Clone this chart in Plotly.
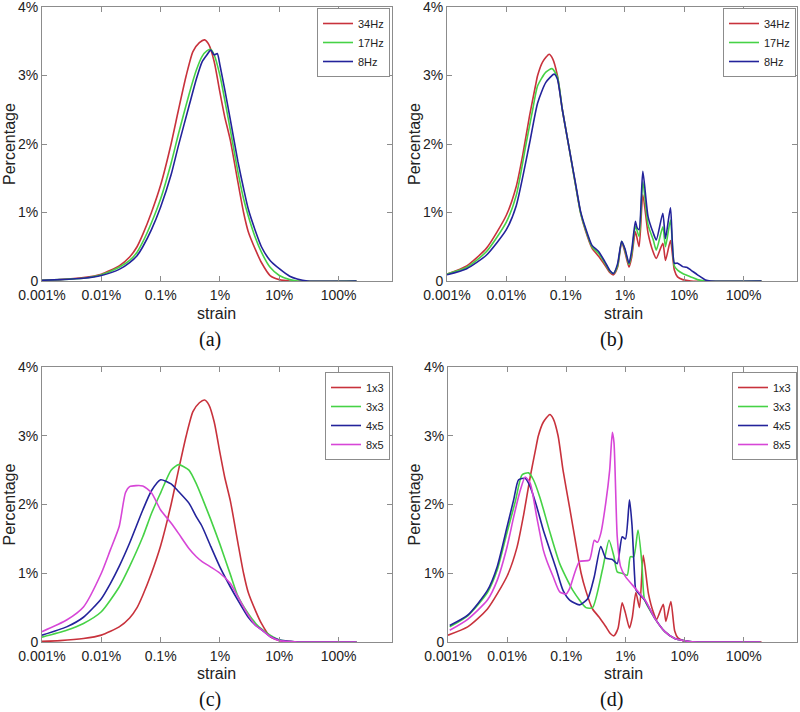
import plotly.graph_objects as go

# ---------------- DATA (strain in %, percentage in %) ----------------
# Panel (a): frequency comparison, smooth distributions
a34_x = [0.001, 0.002, 0.005, 0.01, 0.02, 0.03, 0.04, 0.05, 0.07, 0.1, 0.15, 0.2, 0.27, 0.35, 0.45, 0.55,
         0.65, 0.8, 1.0, 1.2, 1.5, 2.0, 2.5, 3.0, 4.0, 5.0, 7.0, 10, 15, 200]
a34_y = [0.01, 0.02, 0.05, 0.1, 0.22, 0.35, 0.5, 0.68, 1.0, 1.4, 2.0, 2.5, 3.0, 3.35, 3.48, 3.52,
         3.45, 3.2, 2.75, 2.4, 2.05, 1.45, 1.0, 0.72, 0.45, 0.27, 0.08, 0.02, 0.0, 0.0]
a17_x = [0.001, 0.002, 0.005, 0.01, 0.02, 0.03, 0.04, 0.05, 0.07, 0.1, 0.15, 0.2, 0.3, 0.4, 0.5, 0.6,
         0.7, 0.8, 1.0, 1.2, 1.5, 2.0, 2.5, 3.0, 4.0, 5.0, 7.0, 10, 15, 20, 200]
a17_y = [0.01, 0.02, 0.04, 0.09, 0.2, 0.3, 0.42, 0.57, 0.85, 1.2, 1.72, 2.15, 2.72, 3.08, 3.28, 3.36,
         3.38, 3.3, 3.0, 2.65, 2.2, 1.6, 1.2, 0.95, 0.62, 0.42, 0.2, 0.08, 0.02, 0.0, 0.0]
a8_x = [0.001, 0.002, 0.005, 0.01, 0.02, 0.03, 0.04, 0.05, 0.07, 0.1, 0.15, 0.2, 0.3, 0.4, 0.5, 0.6,
        0.7, 0.8, 0.9, 1.0, 1.2, 1.5, 2.0, 2.5, 3.0, 4.0, 5.0, 7.0, 10, 15, 20, 30, 200]
a8_y = [0.01, 0.02, 0.04, 0.08, 0.17, 0.27, 0.37, 0.5, 0.75, 1.08, 1.55, 1.98, 2.55, 2.95, 3.2, 3.3,
        3.37, 3.3, 3.32, 3.15, 2.8, 2.35, 1.75, 1.35, 1.05, 0.72, 0.5, 0.3, 0.18, 0.07, 0.03, 0.0, 0.0]

# Panel (b): frequency comparison, with secondary peaks
b34_x = [0.001, 0.00215, 0.00464, 0.01, 0.0147, 0.019, 0.0245, 0.031, 0.0337, 0.041, 0.0527, 0.06,
         0.0726, 0.088, 0.114, 0.147, 0.178, 0.215, 0.278, 0.36, 0.46, 0.56, 0.64, 0.75, 0.88, 1.0,
         1.17, 1.3, 1.5, 1.73, 2.0, 2.45, 3.0, 3.37, 4.35, 4.82, 5.85, 6.8, 7.7, 9.4, 12.9, 200]
b34_y = [0.10, 0.22, 0.48, 0.96, 1.38, 1.85, 2.4, 2.85, 3.0, 3.2, 3.31, 3.25,
         3.0, 2.5, 1.95, 1.4, 1.0, 0.74, 0.48, 0.36, 0.23, 0.12, 0.09, 0.2, 0.57, 0.42,
         0.2, 0.35, 0.72, 0.5, 1.26, 0.7, 0.42, 0.33, 0.55, 0.3, 0.59, 0.16, 0.06, 0.02, 0.0, 0.0]
b17_x = [0.001, 0.00215, 0.00464, 0.01, 0.0147, 0.0215, 0.0278, 0.0337, 0.0464, 0.059, 0.0726, 0.088,
         0.114, 0.147, 0.178, 0.215, 0.278, 0.36, 0.46, 0.56, 0.64, 0.75, 0.88, 1.0, 1.17, 1.3, 1.5,
         1.73, 2.0, 2.45, 3.0, 3.37, 4.35, 4.82, 5.85, 6.8, 7.7, 9.4, 12.9, 16.7, 22, 200]
b17_y = [0.10, 0.2, 0.43, 0.86, 1.25, 2.0, 2.5, 2.85, 3.05, 3.1, 2.98, 2.5,
         1.95, 1.4, 1.0, 0.76, 0.5, 0.4, 0.26, 0.14, 0.11, 0.22, 0.58, 0.45, 0.24, 0.4, 0.8,
         0.65, 1.45, 0.82, 0.6, 0.45, 0.79, 0.5, 0.89, 0.22, 0.16, 0.11, 0.06, 0.02, 0.0, 0.0]
b8_x = [0.001, 0.00215, 0.00464, 0.01, 0.0147, 0.0245, 0.0337, 0.0464, 0.064, 0.0726, 0.088, 0.114,
        0.147, 0.178, 0.215, 0.278, 0.36, 0.46, 0.56, 0.64, 0.75, 0.88, 1.0, 1.17, 1.3, 1.5, 1.6,
        1.73, 2.0, 2.45, 3.0, 3.37, 4.35, 4.82, 5.85, 6.8, 7.7, 9.4, 11, 12.9, 16.7, 22.8, 27.8, 200]
b8_y = [0.09, 0.18, 0.38, 0.75, 1.1, 2.0, 2.6, 2.9, 3.02, 2.95, 2.5, 1.95,
        1.42, 1.02, 0.78, 0.52, 0.43, 0.28, 0.15, 0.11, 0.25, 0.58, 0.47, 0.26, 0.45, 0.87, 0.78,
        0.75, 1.6, 0.94, 0.7, 0.6, 0.99, 0.62, 1.07, 0.26, 0.26, 0.21, 0.2, 0.16, 0.09, 0.015, 0.0, 0.0]

# Panel (c): array size comparison, smooth distributions
c13_x, c13_y = a34_x, a34_y
c33_x = [0.001, 0.0026, 0.005, 0.01, 0.02, 0.03, 0.05, 0.07, 0.1, 0.15, 0.2, 0.3, 0.4, 0.5, 0.7,
         1.0, 1.5, 2.0, 3.0, 4.0, 5.0, 7.0, 10, 15, 20, 200]
c33_y = [0.07, 0.17, 0.27, 0.44, 0.8, 1.1, 1.53, 1.87, 2.17, 2.5, 2.58, 2.5, 2.3, 2.1, 1.78,
         1.42, 0.98, 0.67, 0.41, 0.27, 0.19, 0.1, 0.03, 0.01, 0.0, 0.0]
c45_x = [0.001, 0.0026, 0.005, 0.01, 0.0142, 0.02, 0.03, 0.05, 0.07, 0.1, 0.15, 0.2, 0.3, 0.4, 0.5,
         0.7, 1.0, 1.5, 2.0, 3.0, 4.0, 5.0, 7.0, 10, 15, 20, 200]
c45_y = [0.1, 0.22, 0.36, 0.63, 0.85, 1.1, 1.44, 1.92, 2.2, 2.36, 2.3, 2.19, 2.02, 1.82, 1.68,
         1.39, 1.09, 0.8, 0.61, 0.36, 0.24, 0.18, 0.08, 0.03, 0.01, 0.0, 0.0]
c85_x = [0.001, 0.0026, 0.005, 0.01, 0.0142, 0.02, 0.0255, 0.03, 0.05, 0.07, 0.1, 0.15, 0.2, 0.3, 0.4,
         0.5, 0.7, 1.0, 1.5, 2.0, 3.0, 4.0, 5.0, 7.0, 10, 15, 20, 200]
c85_y = [0.15, 0.32, 0.51, 1.0, 1.34, 1.68, 2.17, 2.26, 2.27, 2.17, 1.92, 1.73, 1.58, 1.36, 1.24,
         1.17, 1.09, 1.0, 0.85, 0.66, 0.39, 0.24, 0.18, 0.08, 0.02, 0.01, 0.0, 0.0]

# Panel (d): array size comparison, with secondary peaks
d13_x, d13_y = b34_x, b34_y
d33_x = [0.00107, 0.00215, 0.00464, 0.00681, 0.01, 0.0138, 0.0178, 0.023, 0.0278, 0.0359, 0.0527,
         0.0774, 0.129, 0.215, 0.278, 0.408, 0.527, 0.64, 0.726, 0.88, 1.07, 1.21, 1.38, 1.63, 1.9,
         2.1, 3.16, 4.64, 6.81, 11.4, 16.7, 190]
d33_y = [0.22, 0.38, 0.72, 1.05, 1.6, 2.05, 2.43, 2.46, 2.36, 2.1, 1.6,
         1.14, 0.75, 0.5, 0.5, 1.05, 1.48, 1.24, 1.02, 1.0, 0.97, 1.24, 1.24, 1.63, 1.14,
         0.62, 0.34, 0.15, 0.05, 0.01, 0.0, 0.0]
d45_x = [0.00107, 0.00215, 0.00464, 0.00681, 0.01, 0.0129, 0.0156, 0.0202, 0.0245, 0.0316, 0.0408,
         0.0527, 0.0681, 0.088, 0.114, 0.167, 0.23, 0.297, 0.383, 0.464, 0.6, 0.726, 0.88, 1.0,
         1.17, 1.29, 1.43, 1.5, 2.15, 3.16, 4.64, 6.81, 11.4, 16.7, 190]
d45_y = [0.24, 0.39, 0.75, 1.1, 1.68, 2.07, 2.36, 2.38, 2.26, 1.97, 1.63,
         1.34, 1.05, 0.75, 0.61, 0.54, 0.63, 0.95, 1.39, 1.22, 1.2, 1.14, 1.53, 1.5,
         2.07, 1.7, 0.95, 0.76, 0.6, 0.34, 0.15, 0.05, 0.01, 0.0, 0.0]
d85_x = [0.00107, 0.00215, 0.00464, 0.00681, 0.01, 0.0129, 0.0167, 0.0202, 0.0245, 0.0316, 0.0408,
         0.0464, 0.06, 0.0774, 0.1, 0.114, 0.167, 0.245, 0.297, 0.337, 0.383, 0.464, 0.541, 0.6,
         0.64, 0.726, 0.825, 1.0, 1.47, 2.15, 3.16, 4.64, 6.81, 11.4, 16.7, 190]
d85_y = [0.17, 0.33, 0.61, 0.9, 1.39, 1.82, 2.21, 2.4, 2.31, 1.82, 1.34,
         1.19, 0.95, 0.73, 0.7, 0.78, 1.17, 1.19, 1.48, 1.45, 1.58, 2.02, 2.5, 3.05,
         2.9, 1.53, 1.1, 0.95, 0.78, 0.61, 0.34, 0.15, 0.05, 0.01, 0.0, 0.0]

freq_names = ["34Hz", "17Hz", "8Hz"]
size_names = ["1x3", "3x3", "4x5", "8x5"]
x_tickvals = [0.001, 0.01, 0.1, 1, 10, 100]
x_ticktext = ["0.001%", "0.01%", "0.1%", "1%", "10%", "100%"]
y_tickvals = [0, 1, 2, 3, 4]
y_ticktext = ["0", "1%", "2%", "3%", "4%"]
captions = ["(a)", "(b)", "(c)", "(d)"]

# ---------------- STYLE ----------------
RED = "#c8323c"
GREEN = "#46d246"
BLUE = "#23239b"
MAGENTA = "#d746d7"
W, H = 800, 712


def fx(px):
    return px / W


def fy(py):
    return 1 - py / H


panels = [
    dict(xd=[fx(42), fx(392)], yd=[fy(281), fy(7)],
         series=[(a34_x, a34_y, RED), (a17_x, a17_y, GREEN), (a8_x, a8_y, BLUE)], names=freq_names,
         leg=(fx(390), fy(8)), lab_x=216, title_y=313, cap=(210, 339), perc_x=9),
    dict(xd=[fx(447), fx(797)], yd=[fy(281), fy(7)],
         series=[(b34_x, b34_y, RED), (b17_x, b17_y, GREEN), (b8_x, b8_y, BLUE)], names=freq_names,
         leg=(fx(796), fy(8)), lab_x=623, title_y=313, cap=(611, 339), perc_x=414),
    dict(xd=[fx(42), fx(392)], yd=[fy(642), fy(367)],
         series=[(c13_x, c13_y, RED), (c33_x, c33_y, GREEN), (c45_x, c45_y, BLUE), (c85_x, c85_y, MAGENTA)],
         names=size_names, leg=(fx(390), fy(372)), lab_x=216, title_y=673, cap=(210, 699), perc_x=9),
    dict(xd=[fx(448), fx(797)], yd=[fy(642), fy(367)],
         series=[(d13_x, d13_y, RED), (d33_x, d33_y, GREEN), (d45_x, d45_y, BLUE), (d85_x, d85_y, MAGENTA)],
         names=size_names, leg=(fx(797), fy(372)), lab_x=623, title_y=673, cap=(611, 699), perc_x=414),
]

fig = go.Figure()
layout = dict(width=W, height=H, margin=dict(l=0, r=0, t=0, b=0, autoexpand=False),
              template="none",
              paper_bgcolor="white", plot_bgcolor="white",
              font=dict(family="Arial, Liberation Sans, sans-serif", color="#222222"))
annotations = []
AX = "#8c8c8c"

for i, p in enumerate(panels):
    n = i + 1
    xa = "x" if n == 1 else f"x{n}"
    ya = "y" if n == 1 else f"y{n}"
    leg = "legend" if n == 1 else f"legend{n}"
    for (xs, ys, col), name in zip(p["series"], p["names"]):
        fig.add_trace(go.Scatter(x=xs, y=ys, mode="lines", name=name, xaxis=xa, yaxis=ya, legend=leg,
                                 line=dict(color=col, width=1.6, shape="spline", smoothing=0.6)))
    layout["xaxis" if n == 1 else f"xaxis{n}"] = dict(
        domain=p["xd"], anchor=ya, type="log", range=[-3, 2.9], automargin=False,
        tickvals=x_tickvals, ticktext=x_ticktext, ticks="inside", ticklen=5, tickcolor=AX,
        showline=True, linecolor=AX, linewidth=1, mirror="ticks", showgrid=False, zeroline=False,
        ticklabelstandoff=1,
        ticklabeloverflow="allow", tickfont=dict(size=14, color="#222222"))
    layout["yaxis" if n == 1 else f"yaxis{n}"] = dict(
        domain=p["yd"], anchor=xa, range=[0, 4], automargin=False,
        tickvals=y_tickvals, ticktext=y_ticktext, ticks="inside", ticklen=5, tickcolor=AX,
        showline=True, linecolor=AX, linewidth=1, mirror="ticks", showgrid=False, zeroline=False,
        ticklabeloverflow="allow", tickfont=dict(size=14, color="#222222"))
    layout[leg] = dict(x=p["leg"][0], y=p["leg"][1], xanchor="right", yanchor="top",
                       bgcolor="white", bordercolor="#8c8c8c", borderwidth=1,
                       font=dict(size=11, color="#222222"), tracegroupgap=0, itemwidth=30)

    annotations.append(dict(text="strain", x=fx(p["lab_x"]), y=fy(p["title_y"]), xref="paper",
                            yref="paper", showarrow=False, font=dict(size=16), xanchor="center",
                            yanchor="middle"))
    annotations.append(dict(text="Percentage", x=fx(p["perc_x"]), y=(p["yd"][0] + p["yd"][1]) / 2,
                            xref="paper", yref="paper", showarrow=False, textangle=-90,
                            font=dict(size=16), xanchor="center", yanchor="middle"))
    annotations.append(dict(text=captions[i], x=fx(p["cap"][0]), y=fy(p["cap"][1]),
                            xref="paper", yref="paper", showarrow=False,
                            font=dict(size=20, family="Liberation Serif, Times New Roman, serif",
                                      color="#111111"),
                            xanchor="center", yanchor="middle"))

layout["annotations"] = annotations
layout["showlegend"] = True
fig.update_layout(**layout)
fig.write_html("out.html", config={"displayModeBar": False},
               post_script="document.body.style.margin='0';")
